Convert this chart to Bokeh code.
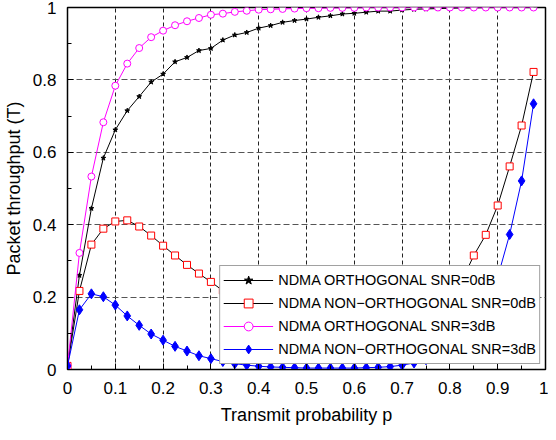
from bokeh.plotting import figure
from bokeh.models import (Range1d, FixedTicker, CustomJSTickFormatter, Legend,
                          LegendItem)
from bokeh.embed import file_html
from bokeh.resources import INLINE

# transmit probability p
p_vals = [0.0, 0.025, 0.05, 0.075, 0.1, 0.125, 0.15, 0.175, 0.2, 0.225,
          0.25, 0.275, 0.3, 0.325, 0.35, 0.375, 0.4, 0.425, 0.45, 0.475,
          0.5, 0.525, 0.55, 0.575, 0.6, 0.625, 0.65, 0.675, 0.7, 0.725,
          0.75, 0.775, 0.8, 0.825, 0.85, 0.875, 0.9, 0.925, 0.95, 0.975]

orth_0db = [0.01, 0.26, 0.445, 0.584, 0.662, 0.715, 0.754, 0.794, 0.816, 0.850,
            0.862, 0.881, 0.887, 0.910, 0.924, 0.931, 0.943, 0.950, 0.959, 0.964,
            0.968, 0.973, 0.977, 0.982, 0.984, 0.987, 0.990, 0.990, 0.993, 0.995,
            0.996, 0.997, 0.998, 0.999, 0.999, 1.0, 1.0, 1.0, 1.0, 1.0]

nonorth_0db = [0.01, 0.217, 0.345, 0.389, 0.409, 0.412, 0.395, 0.370, 0.342, 0.315,
               0.289, 0.265, 0.242, 0.218, 0.196, 0.176, 0.158, 0.141, 0.127, 0.114,
               0.103, 0.094, 0.087, 0.082, 0.080, 0.080, 0.082, 0.088, 0.097, 0.110,
               0.128, 0.155, 0.192, 0.245, 0.315, 0.372, 0.453, 0.561, 0.674, 0.822]

orth_3db = [0.01, 0.322, 0.533, 0.683, 0.784, 0.845, 0.888, 0.918, 0.936, 0.951,
            0.962, 0.971, 0.980, 0.983, 0.988, 0.991, 0.994, 0.995, 0.996, 0.997,
            0.998, 0.998, 0.999, 0.999, 0.999, 1.0, 1.0, 1.0, 1.0, 1.0,
            1.0, 1.0, 1.0, 1.0, 1.0, 1.0, 1.0, 1.0, 1.0, 1.0]

nonorth_3db = [0.01, 0.165, 0.209, 0.201, 0.178, 0.148, 0.122, 0.098, 0.081, 0.064,
               0.051, 0.038, 0.030, 0.022, 0.016, 0.012, 0.009, 0.007, 0.006, 0.005,
               0.004, 0.004, 0.004, 0.004, 0.004, 0.005, 0.006, 0.008, 0.012, 0.018,
               0.027, 0.040, 0.058, 0.083, 0.118, 0.170, 0.255, 0.373, 0.521, 0.734]

labels = ["NDMA ORTHOGONAL SNR=0dB",
          "NDMA NON\u2212ORTHOGONAL SNR=0dB",
          "NDMA ORTHOGONAL SNR=3dB",
          "NDMA NON\u2212ORTHOGONAL SNR=3dB"]

x_ticks = [0, 0.1, 0.2, 0.3, 0.4, 0.5, 0.6, 0.7, 0.8, 0.9, 1]
x_minor = [0.05, 0.15, 0.25, 0.35, 0.45, 0.55, 0.65, 0.75, 0.85, 0.95]
y_ticks = [0, 0.2, 0.4, 0.6, 0.8, 1]
y_minor = [0.1, 0.3, 0.5, 0.7, 0.9]

FONT = "Liberation Sans"

p = figure(width=548, height=432, x_range=Range1d(0, 1), y_range=Range1d(0, 1),
           output_backend="svg", toolbar_location=None,
           min_border_left=64, min_border_right=3, min_border_top=7,
           min_border_bottom=63,
           x_axis_label="Transmit probability p",
           y_axis_label="Packet throughput (T)")
p.outline_line_color = "black"
p.outline_line_width = 1.5
p.outline_line_alpha = 1.0
p.background_fill_color = "white"
p.border_fill_color = "white"

fmt = CustomJSTickFormatter(code="return (+tick.toFixed(2)).toString();")

for ax, ticks, minor in ((p.xaxis[0], x_ticks, x_minor), (p.yaxis[0], y_ticks, y_minor)):
    ax.ticker = FixedTicker(ticks=ticks, minor_ticks=minor)
    ax.formatter = fmt
    ax.major_tick_in = 6
    ax.major_tick_out = 0
    ax.minor_tick_in = 4
    ax.minor_tick_out = 0
    ax.axis_line_color = "black"
    ax.major_tick_line_color = "black"
    ax.minor_tick_line_color = "black"
    ax.major_label_text_font = FONT
    ax.major_label_text_font_size = "17px"
    ax.major_label_text_color = "black"
    ax.axis_label_text_font = FONT
    ax.axis_label_text_font_size = "18px"
    ax.axis_label_text_font_style = "normal"
    ax.axis_label_text_color = "black"

p.xaxis.major_label_standoff = 12
p.xaxis.axis_label_standoff = 8
p.yaxis.major_label_standoff = 11
p.yaxis.axis_label_standoff = 6

p.xgrid.ticker = FixedTicker(ticks=x_ticks)
p.ygrid.ticker = FixedTicker(ticks=y_ticks)
p.xgrid.grid_line_color = "#222222"
p.xgrid.grid_line_dash = "4 3"
p.xgrid.grid_line_width = 1
p.ygrid.grid_line_color = "#555555"
p.ygrid.grid_line_dash = "6 3"
p.ygrid.grid_line_width = 1

l1 = p.line(p_vals, orth_0db, line_color="black", line_width=1)
s1 = p.scatter(p_vals, orth_0db, marker="star", size=5, line_color="black",
               fill_color="black")
l2 = p.line(p_vals, nonorth_0db, line_color="black", line_width=1)
s2 = p.scatter(p_vals, nonorth_0db, marker="square", size=7, line_color="#ff0000",
               fill_color="white", line_width=1)
l3 = p.line(p_vals, orth_3db, line_color="#ff00ff", line_width=1)
s3 = p.scatter(p_vals, orth_3db, marker="circle", size=7, line_color="#ff00ff",
               fill_color="white", line_width=1)
l4 = p.line(p_vals, nonorth_3db, line_color="#0000ff", line_width=1)
s4 = p.scatter(p_vals, nonorth_3db, marker="diamond", size=10, line_color="#0000ff",
               fill_color="#0000ff")

legend = Legend(items=[LegendItem(label=labels[0], renderers=[l1, s1]),
                       LegendItem(label=labels[1], renderers=[l2, s2]),
                       LegendItem(label=labels[2], renderers=[l3, s3]),
                       LegendItem(label=labels[3], renderers=[l4, s4])],
                location="bottom_right", margin=5, padding=3, spacing=1,
                glyph_width=50, glyph_height=22, label_height=22,
                label_standoff=5,
                label_text_font=FONT, label_text_font_size="14.5px",
                label_text_color="black",
                border_line_color="#444444", border_line_width=1,
                background_fill_color="white", background_fill_alpha=1.0)
p.add_layout(legend, "center")

open("out.html", "w").write(file_html(p, INLINE))
